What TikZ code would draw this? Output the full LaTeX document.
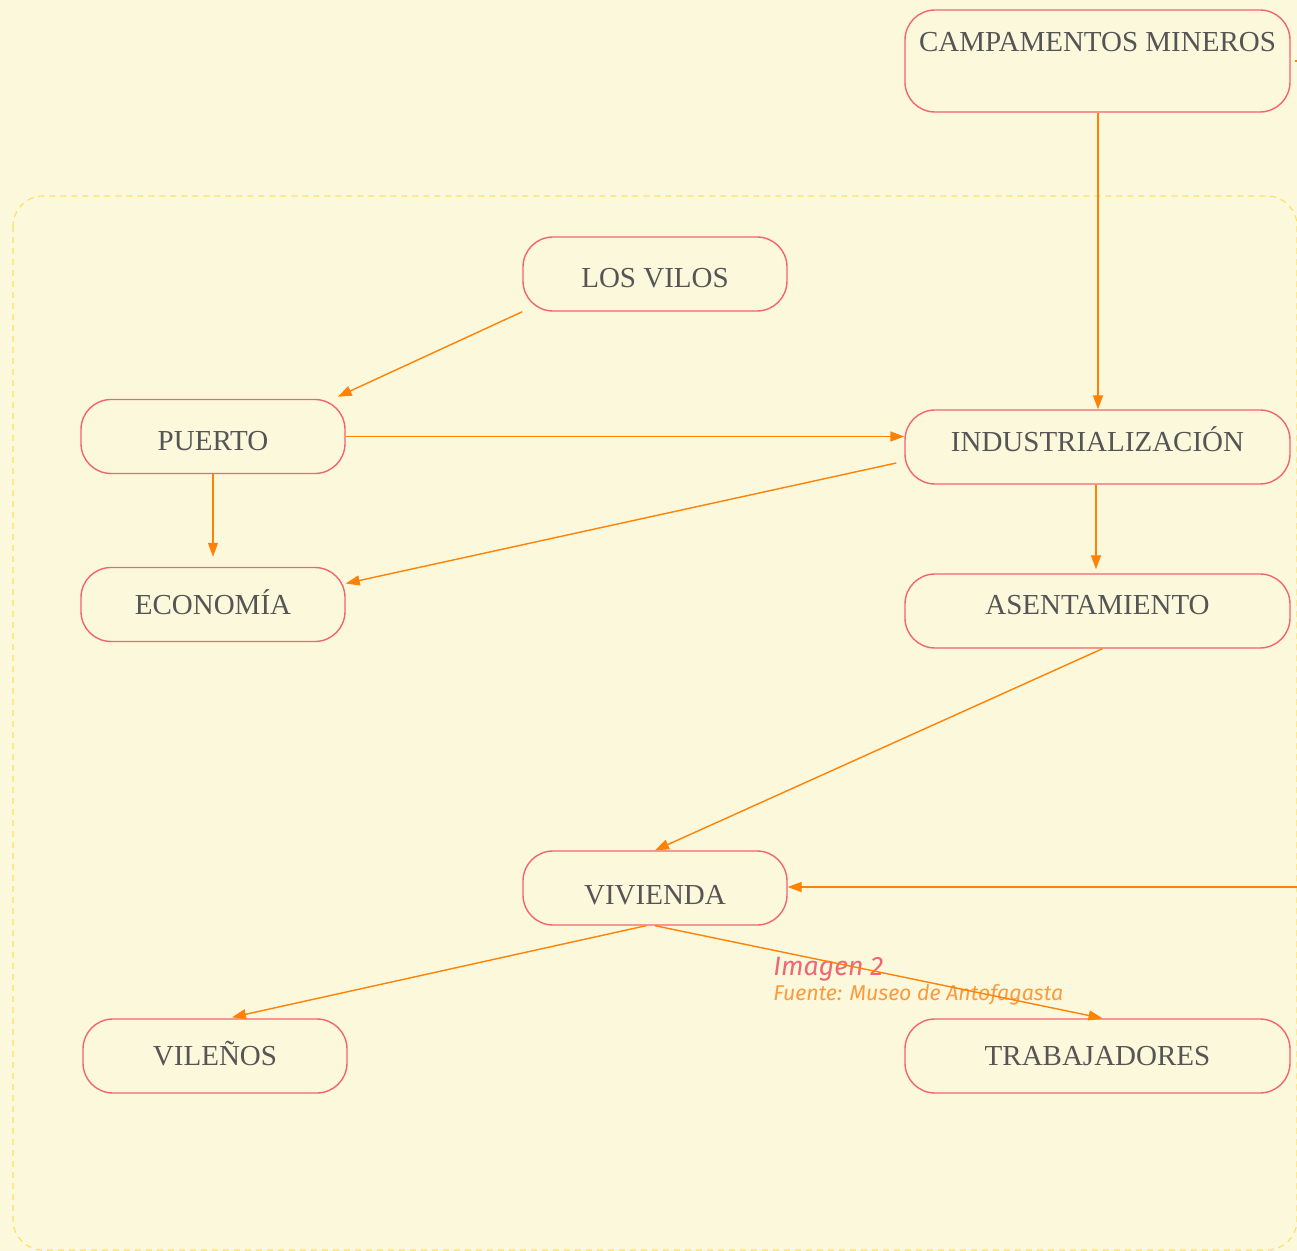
\documentclass[tikz,border=0pt]{standalone}
\usepackage{fontspec}
\setmainfont{Liberation Serif}
\newfontfamily\capfont{Fira Sans}
\usetikzlibrary{arrows.meta,calc}
\definecolor{bg}{HTML}{FCF8DC}
\definecolor{nodered}{HTML}{F46370}
\definecolor{arroworange}{HTML}{FF8205}
\definecolor{txtgray}{HTML}{555555}
\definecolor{dashyellow}{HTML}{FFE060}
\definecolor{capred}{HTML}{EE6677}
\definecolor{caporange}{HTML}{FF9A3C}
\begin{document}
\begin{tikzpicture}[x=0.5pt,y=-0.5pt,
  box/.style={draw=nodered, line width=0.7pt, rounded corners=15pt, text=txtgray,
    font=\fontsize{14.5}{17}\selectfont, inner sep=0pt, text depth=0pt, text height=9.6pt},
  tshift/.style={text height=9.6pt+2*#1},
  small/.style={minimum width=132pt, minimum height=37pt},
  wide/.style={minimum width=192.5pt, minimum height=37pt},
  conn/.style={draw=arroworange, line width=0.7pt, -{Triangle[length=7pt,width=5pt]}},
  txt/.style={text=txtgray, font=\fontsize{14.5}{17}\selectfont, inner sep=0pt}]
\useasboundingbox (0,0) rectangle (1297,1251);
\fill[bg] (0,0) rectangle (1297,1251);
\draw[dashyellow, line width=0.6pt, dash pattern=on 3pt off 2.5pt, rounded corners=15pt]
  (13,196) rectangle (1297,1250);

\node[box, minimum width=192.5pt, minimum height=51pt] (camp) at (1097.5,61) {};
\node[txt] (camptxt) at (1097.5,42) {CAMPAMENTOS MINEROS};
\node[box, small, tshift=2pt] (vilos) at (655,274) {LOS VILOS};
\node[box, small, tshift=2.25pt] (puerto) at (213,436.5) {PUERTO};
\node[box, wide, tshift=-2.5pt] (ind) at (1097.5,447) {INDUSTRIALIZACIÓN};
\node[box, small, tshift=0pt] (econ) at (213,604.5) {ECONOMÍA};
\node[box, wide, tshift=-3pt] (asent) at (1097.5,611) {ASENTAMIENTO};
\node[box, small, tshift=3.5pt] (viv) at (655,888) {VIVIENDA};
\node[box, small, tshift=0pt] (vil) at (215,1056) {VILEÑOS};
\node[box, wide, tshift=0pt] (trab) at (1097.5,1056) {TRABAJADORES};

\node[anchor=base west, inner sep=0pt, text=capred, font=\capfont\itshape\fontsize{13.3}{15}\selectfont] (img) at (773,975) {Imagen 2};
\node[anchor=base west, inner sep=0pt, text=caporange, font=\capfont\itshape\fontsize{10.7}{12}\selectfont] (src) at (773,1000) {Fuente: Museo de Antofagasta};

\coordinate (rin) at (1297,887);
\coordinate (rout) at (1297,61);

\draw[conn] ($(camp.south)+(0.5,0)$) -- ($(ind.north)+(0.5,0)$);
\draw[conn] (vilos.south west) -- ($(puerto.north east)+(-8,-2)$);
\draw[conn] (puerto.east) -- (puerto.east -| ind.west);
\draw[conn] (puerto.south) -- ($(econ.north)+(0,-10)$);
\draw[conn] ($(ind.west)+(-8,16)$) -- ($(econ.east)+(0,-21)$);
\draw[conn] ($(ind.south)+(-1.5,0)$) -- ($(asent.north)+(-1.5,-4)$);
\draw[conn] ($(asent.south)+(5,0)$) -- (viv.north);
\draw[conn] (rin) -- (rin -| viv.east);
\draw[conn] ($(viv.south)+(-9,0)$) -- ($(vil.north)+(17,-1)$);
\draw[conn] (viv.south) -- ($(trab.north)+(5,0)$);
\draw[arroworange, line width=0.7pt] ($(camp.east)+(4,0)$) -- (rout);
\end{tikzpicture}
\end{document}
